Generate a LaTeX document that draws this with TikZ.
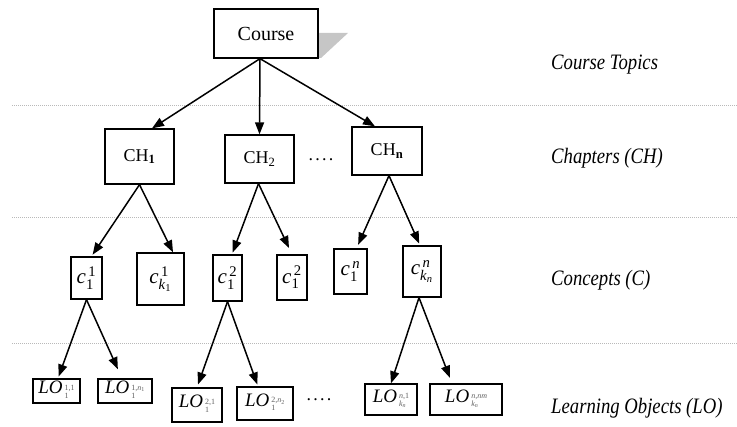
\documentclass[tikz,border=0pt]{standalone}
\usepackage{fontspec}
\usepackage{amsmath}
\setmainfont{Liberation Serif}
\newfontfamily\layerfont[FakeStretch=0.85]{Liberation Serif}
\usetikzlibrary{arrows.meta}

% concept symbol: italic c with stacked indices
\newcommand\conc[2]{$\textit{c}^{\,#1}_{#2}$}
% learning object: italic LO with two small grey index lines
\newcommand\lobj[2]{\textit{LO}\hspace{2pt}\raisebox{-1pt}{\fontsize{8}{8.5}\selectfont\color{gray!75!black}\begin{tabular}{@{}l@{}}#1\\[-0.5pt]#2\end{tabular}}}
\newcommand\fourdots{.\kern2.2pt.\kern2.2pt.\kern2.2pt.}

\begin{document}
\begin{tikzpicture}[x=1pt,y=-1pt,
  box/.style={draw,line width=1.3pt,fill=white,inner sep=0pt,font=\fontsize{18}{20}\selectfont},
  cbox/.style={box,font=\fontsize{21}{23}\selectfont},
  lobox/.style={box,font=\fontsize{19}{21}\selectfont},
  link/.style={line width=1.5pt,-{Triangle[length=12pt,width=9pt]}},
  layer/.style={gray!55,line width=0.9pt,dash pattern=on 1pt off 1pt},
  lname/.style={anchor=west,inner sep=0pt,font=\layerfont\itshape\fontsize{22}{24}\selectfont}]
\useasboundingbox (0,0) rectangle (737,427);

% layer separators
\draw[layer] (12,105) -- (737,105);
\draw[layer] (12,217) -- (737,217);
\draw[layer] (12,343) -- (737,343);

% layer names
\node[lname] (lt) at (551,65) {Course Topics};
\node[lname] (lch) at (551,158) {Chapters (CH)};
\node[lname] (lc) at (551,280) {Concepts (C)};
\node[lname] (llo) at (551,408) {Learning Objects (LO)};

% root with its drop shadow
\fill[gray!45] (318,33) -- (348,33) -- (321,58) -- (318,58) -- cycle;
\node[box,minimum width=104pt,minimum height=49pt,font=\fontsize{20}{22}\selectfont] (course) at (266,33.5) {Course};

% chapters
\node[box,minimum width=69pt,minimum height=55pt] (ch1) at (139.5,156.5) {CH\textsubscript{\textbf{1}}};
\node[box,minimum width=69pt,minimum height=48pt] (ch2) at (259.5,159) {CH\textsubscript{2}};
\node[box,minimum width=70pt,minimum height=48pt] (chn) at (387,151) {CH\textsubscript{\textbf{n}}};
\node[inner sep=0pt,font=\fontsize{18}{20}\selectfont] (chdots) at (321,160) {\fourdots};

% concepts
\node[cbox,minimum width=31pt,minimum height=42pt] (c11) at (86.5,278) {\conc{\text{1}}{\text{1}}};
\node[cbox,minimum width=47pt,minimum height=52pt] (c1k) at (160.5,279) {\conc{\text{1}}{\text{\textit{k}}_{\text{1}}}};
\node[cbox,minimum width=29pt,minimum height=46pt] (c21) at (227.5,278) {\conc{\text{2}}{\text{1}}};
\node[cbox,minimum width=30pt,minimum height=45pt] (c22) at (292,277.5) {\conc{\text{2}}{\text{1}}};
\node[cbox,minimum width=33pt,minimum height=45pt] (cn1) at (350.5,271.5) {\conc{\text{\textit{n}}}{\text{1}}};
\node[cbox,minimum width=38pt,minimum height=51pt] (cnk) at (422,271.5) {\conc{\text{\textit{n}}}{\text{\textit{k}}_{\text{\textit{n}}}}};

% learning objects
\node[lobox,minimum width=47pt,minimum height=24pt] (lo11) at (56.5,391) {\lobj{1,1}{1}};
\node[lobox,minimum width=54pt,minimum height=24pt] (lo1n) at (125,391) {\lobj{1,\textit{n}\textsubscript{1}}{1}};
\node[lobox,minimum width=50pt,minimum height=34pt] (lo21) at (197,405) {\lobj{2,1}{1}};
\node[lobox,minimum width=56pt,minimum height=33pt] (lo2n) at (265,403.5) {\lobj{2,\textit{n}\textsubscript{2}}{1}};
\node[inner sep=0pt,font=\fontsize{18}{20}\selectfont] (lodots) at (319,400) {\fourdots};
\node[lobox,minimum width=52pt,minimum height=31pt] (lon1) at (391,399.5) {\lobj{\textit{n},1}{\textit{k\textsubscript{n}}}};
\node[lobox,minimum width=72pt,minimum height=31pt] (lonm) at (466,399.5) {\lobj{\textit{n},\textit{nm}}{\textit{k\textsubscript{n}}}};

% course -> chapters
\draw[link] ([xshift=-6pt]course.south) -- ([xshift=12.5pt]ch1.north);
\draw[link] ([xshift=-6pt]course.south) -- (ch2.north);
\draw[link] ([xshift=-6pt]course.south) -- ([xshift=-12pt]chn.north);

% chapters -> concepts
\draw[link,shorten >=2pt] (ch1.south) -- ([xshift=5pt]c11.north);
\draw[link] (ch1.south) -- ([xshift=12.5pt]c1k.north);
\draw[link,shorten >=2pt] ([xshift=-1pt]ch2.south) -- ([xshift=4.5pt]c21.north);
\draw[link,shorten >=7pt] ([xshift=-1pt]ch2.south) -- (c22.north);
\draw[link,shorten >=4pt] ([xshift=2pt]chn.south) -- ([xshift=6pt]cn1.north);
\draw[link,shorten >=2pt] ([xshift=2pt]chn.south) -- ([xshift=-2pt]cnk.north);

% concepts -> learning objects
\draw[link,shorten >=2pt] (c11.south) -- ([xshift=1.5pt]lo11.north);
\draw[link,shorten >=10pt] (c11.south) -- ([xshift=-3pt]lo1n.north);
\draw[link,shorten >=3pt] (c21.south) -- (lo21.north);
\draw[link,shorten >=2pt] (c21.south) -- ([xshift=-7pt]lo2n.north);
\draw[link] ([xshift=-3pt]cnk.south) -- (lon1.north);
\draw[link,shorten >=6pt] ([xshift=-3pt]cnk.south) -- ([xshift=-14pt]lonm.north);
\end{tikzpicture}
\end{document}
